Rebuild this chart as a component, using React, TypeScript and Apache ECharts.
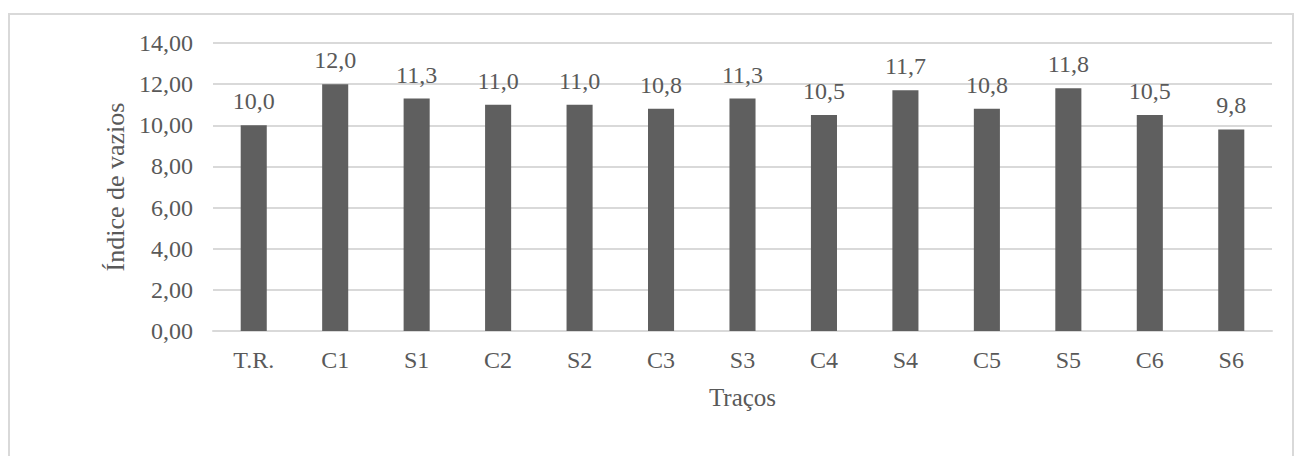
import React, { useEffect, useRef } from "react";
import * as echarts from "echarts";

const categories = ["T.R.", "C1", "S1", "C2", "S2", "C3", "S3", "C4", "S4", "C5", "S5", "C6", "S6"];
const voidIndex = [10.0, 12.0, 11.3, 11.0, 11.0, 10.8, 11.3, 10.5, 11.7, 10.8, 11.8, 10.5, 9.8];
const yTicks = { min: 0, max: 14, interval: 2 };

const FONT = "'Liberation Serif', 'Times New Roman', serif";
const TEXT = "#595959";
const GRID = "#d9d9d9";

const comma = (v: number, d: number) => v.toFixed(d).replace(".", ",");

export default function App() {
  const ref = useRef<HTMLDivElement>(null);

  useEffect(() => {
    document.body.style.margin = "0";
    const chart = echarts.init(ref.current!, null, { renderer: "svg" });
    chart.setOption({
      animation: false,
      backgroundColor: "#ffffff",
      graphic: [
        {
          type: "rect",
          shape: { x: 9, y: 14, width: 1284, height: 500 },
          style: { fill: "none", stroke: GRID, lineWidth: 2 },
          silent: true,
        },
      ],
      grid: { left: 213, right: 22, top: 43, height: 288 },
      xAxis: {
        type: "category",
        data: categories,
        name: "Traços",
        nameLocation: "middle",
        nameGap: 54,
        nameTextStyle: { fontFamily: FONT, fontSize: 25, color: TEXT },
        axisLine: { lineStyle: { color: GRID, width: 2 } },
        axisTick: { show: false },
        axisLabel: { fontFamily: FONT, fontSize: 24, color: TEXT, margin: 17 },
      },
      yAxis: {
        type: "value",
        min: yTicks.min,
        max: yTicks.max,
        interval: yTicks.interval,
        name: "Índice de vazios",
        nameLocation: "middle",
        nameGap: 84,
        nameTextStyle: { fontFamily: FONT, fontSize: 26, color: TEXT },
        axisLine: { show: false },
        axisTick: { show: false },
        axisLabel: {
          fontFamily: FONT,
          fontSize: 24,
          color: TEXT,
          margin: 20,
          formatter: (v: number) => comma(v, 2),
        },
        splitLine: { lineStyle: { color: GRID, width: 2 } },
      },
      series: [
        {
          type: "bar",
          data: voidIndex,
          barWidth: "32%",
          itemStyle: { color: "#5f5f5f" },
          label: {
            show: true,
            position: "top",
            distance: 12,
            fontFamily: FONT,
            fontSize: 24,
            color: TEXT,
            formatter: (p: any) => comma(p.value, 1),
          },
        },
      ],
    });
    return () => chart.dispose();
  }, []);

  return <div ref={ref} style={{ width: 1294, height: 456 }} />;
}
